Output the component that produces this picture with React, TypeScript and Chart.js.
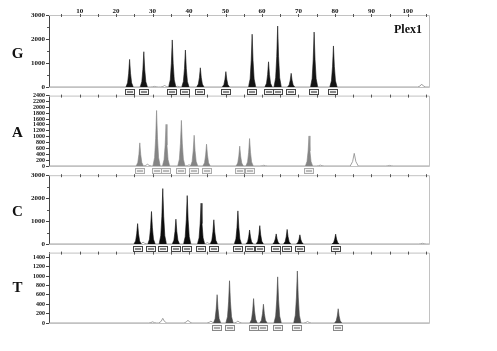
import React, { useEffect, useRef } from 'react';
import { Chart, registerables } from 'chart.js';

Chart.register(...registerables);

// ---------- data ----------
const xLabelValues = [10, 20, 30, 40, 50, 60, 70, 80, 90, 100];
const X_MIN = 1.6;
const X_MAX = 105.8;

const gPeakPos = [23.7, 27.6, 35.4, 39.0, 43.1, 50.1, 57.3, 61.8, 64.3, 68.0, 74.3, 79.6];
const gPeakHeight = [1150, 1470, 1960, 1540, 800, 640, 2200, 1050, 2540, 570, 2290, 1710];
const gMinorPos = [30.5, 33.3, 36.8, 103.8];
const gMinorHeight = [25, 60, 30, 120];

const aPeakPos = [26.5, 31.1, 33.7, 37.9, 41.4, 44.8, 53.9, 56.6, 72.9];
const aPeakHeight = [788, 1893, 1420, 1555, 1048, 744, 676, 936, 1025];
const aMinorPos = [28.6, 40.0, 60.5, 76.0, 85.3, 95.0];
const aMinorHeight = [60, 40, 25, 30, 430, 20];

const cPeakPos = [25.9, 29.7, 32.8, 36.4, 39.5, 43.3, 46.8, 53.4, 56.6, 59.4, 63.9, 66.9, 70.4, 80.2];
const cPeakHeight = [889, 1417, 2417, 1083, 2111, 1778, 1056, 1444, 611, 800, 440, 635, 400, 430];
const cMinorPos = [27.4, 45.0, 104.0];
const cMinorHeight = [80, 60, 30];

const tPeakPos = [47.7, 51.1, 57.7, 60.4, 64.3, 69.7, 80.9];
const tPeakHeight = [603, 900, 520, 400, 983, 1108, 303];
const tMinorPos = [30.0, 32.8, 39.7, 46.0, 53.4, 72.5];
const tMinorHeight = [25, 100, 60, 40, 40, 30];

// ---------- styles ----------
const PEAK_DX = [-1.0, -0.55, -0.25, 0, 0.25, 0.55, 1.0];
const PEAK_FRAC = [0, 0.15, 0.5, 1, 0.5, 0.15, 0];
const BUMP_DX = [-1.1, -0.45, 0, 0.45, 1.1];
const BUMP_FRAC = [0, 0.35, 1, 0.35, 0];
const SERIF = "'Liberation Serif', 'DejaVu Serif', serif";

type Panel = {
  key: string;
  letter: string;
  letterY: number;
  canvasTop: number;
  canvasH: number;
  axisH: number;
  padBottom: number;
  yMax: number;
  yStep: number;
  yFont: number;
  minorStep: number;
  color: string;
  boxStroke: string;
  boxInner: string;
  pos: number[];
  heights: number[];
  minorPos: number[];
  minorHeights: number[];
  xLabels: boolean;
};

const panels: Panel[] = [
  { key: 'G', letter: 'G', letterY: 53, canvasTop: 0, canvasH: 96, axisH: 15, padBottom: 9, yMax: 3000, yStep: 1000, yFont: 7, minorStep: 500, color: '#151515', boxStroke: '#444', boxInner: '#888', pos: gPeakPos, heights: gPeakHeight, minorPos: gMinorPos, minorHeights: gMinorHeight, xLabels: true },
  { key: 'A', letter: 'A', letterY: 132, canvasTop: 91, canvasH: 83, axisH: 4, padBottom: 8, yMax: 2400, yStep: 200, yFont: 6, minorStep: 0, color: '#858585', boxStroke: '#aaa', boxInner: '#bbb', pos: aPeakPos, heights: aPeakHeight, minorPos: aMinorPos, minorHeights: aMinorHeight, xLabels: false },
  { key: 'C', letter: 'C', letterY: 211, canvasTop: 170, canvasH: 82, axisH: 4, padBottom: 8, yMax: 3000, yStep: 1000, yFont: 7, minorStep: 500, color: '#0d0d0d', boxStroke: '#444', boxInner: '#888', pos: cPeakPos, heights: cPeakHeight, minorPos: cMinorPos, minorHeights: cMinorHeight, xLabels: false },
  { key: 'T', letter: 'T', letterY: 287, canvasTop: 248, canvasH: 86, axisH: 4, padBottom: 11, yMax: 1500, yStep: 200, yFont: 6, minorStep: 0, color: '#4a4a4a', boxStroke: '#888', boxInner: '#aaa', pos: tPeakPos, heights: tPeakHeight, minorPos: tMinorPos, minorHeights: tMinorHeight, xLabels: false },
];

function peakPoints(pos: number, h: number) {
  return PEAK_DX.map((dx, i) => ({ x: pos + dx, y: h * PEAK_FRAC[i] }));
}

function baselinePoints(minorPos: number[], minorHeights: number[]) {
  const pts: { x: number; y: number }[] = [{ x: X_MIN, y: 0 }];
  minorPos.forEach((p, k) => {
    BUMP_DX.forEach((dx, i) => pts.push({ x: p + dx, y: minorHeights[k] * BUMP_FRAC[i] }));
  });
  pts.push({ x: X_MAX, y: 0 });
  return pts;
}

function PanelChart({ p }: { p: Panel }) {
  const ref = useRef<HTMLCanvasElement | null>(null);
  useEffect(() => {
    if (!ref.current) return;
    const peakSets = p.pos.map((pos, i) => ({
      data: peakPoints(pos, p.heights[i]),
      borderColor: p.color,
      backgroundColor: p.color,
      borderWidth: 0.6,
      pointRadius: 0,
      fill: 'origin',
      tension: 0,
    }));
    const baseSet = {
      data: baselinePoints(p.minorPos, p.minorHeights),
      borderColor: '#8a8a8a',
      backgroundColor: 'transparent',
      borderWidth: 0.8,
      pointRadius: 0,
      fill: false,
      tension: 0,
    };
    const framePlugin = {
      id: 'frame' + p.key,
      afterDatasetsDraw(chart: any) {
        const { ctx, chartArea } = chart;
        const { left, right, top, bottom } = chartArea;
        const xs = chart.scales.x;
        const ys = chart.scales.y;
        ctx.save();
        ctx.strokeStyle = '#c2c2c2';
        ctx.lineWidth = 1;
        ctx.beginPath();
        ctx.moveTo(left, top + 0.5);
        ctx.lineTo(right + 0.5, top + 0.5);
        ctx.lineTo(right + 0.5, bottom + 0.5);
        ctx.lineTo(left, bottom + 0.5);
        ctx.stroke();
        ctx.strokeStyle = '#555';
        ctx.beginPath();
        xs.ticks.forEach((t: any) => {
          const x = Math.round(xs.getPixelForValue(t.value)) + 0.5;
          ctx.moveTo(x, top - 1);
          ctx.lineTo(x, top + 2);
        });
        ctx.stroke();
        if (p.minorStep) {
          ctx.beginPath();
          for (let v = p.minorStep; v < p.yMax; v += p.yStep) {
            const y = Math.round(ys.getPixelForValue(v)) + 0.5;
            ctx.moveTo(left - 2, y);
            ctx.lineTo(left, y);
          }
          ctx.stroke();
        }
        p.pos.forEach((pos) => {
          const x = Math.round(xs.getPixelForValue(pos));
          const y = Math.round(bottom) + 2;
          ctx.fillStyle = '#f4f4f4';
          ctx.fillRect(x - 4.5, y + 0.5, 9, 5);
          ctx.strokeStyle = p.boxStroke;
          ctx.strokeRect(x - 4.5, y + 0.5, 9, 5);
          ctx.fillStyle = p.boxInner;
          ctx.fillRect(x - 3, y + 2, 6, 2);
        });
        ctx.restore();
      },
    };
    const chart = new Chart(ref.current, {
      type: 'line',
      data: { datasets: [...peakSets, baseSet] as any },
      options: {
        animation: false,
        responsive: false,
        devicePixelRatio: 1,
        parsing: false as any,
        normalized: true,
        layout: { padding: { left: 21, right: 68, top: 0, bottom: p.padBottom } },
        plugins: { legend: { display: false }, tooltip: { enabled: false } },
        scales: {
          x: {
            type: 'linear',
            position: 'top',
            min: X_MIN,
            max: X_MAX,
            grid: { display: false, drawTicks: false },
            border: { display: false },
            ticks: {
              display: p.xLabels,
              stepSize: 5,
              includeBounds: false,
              autoSkip: false,
              maxRotation: 0,
              padding: 0,
              color: '#111',
              font: { family: SERIF, weight: 'bold', size: 7 },
              callback: (v: any) => (xLabelValues.includes(Number(v)) ? String(v) : ''),
            },
            afterFit: (s: any) => { s.height = p.axisH; },
          },
          y: {
            type: 'linear',
            min: 0,
            max: p.yMax,
            grid: { drawOnChartArea: false, drawTicks: true, tickLength: 3, color: '#444' },
            border: { display: true, color: '#444', width: 1 },
            ticks: {
              stepSize: p.yStep,
              includeBounds: false,
              autoSkip: false,
              padding: 1,
              color: '#111',
              font: { family: SERIF, weight: 'bold', size: p.yFont },
              callback: (v: any) => String(v),
            },
            afterFit: (s: any) => { s.width = 28; },
          },
        },
      } as any,
      plugins: [framePlugin],
    });
    return () => chart.destroy();
  }, [p]);
  return (
    <canvas
      ref={ref}
      width={497}
      height={p.canvasH}
      style={{ position: 'absolute', left: 0, top: p.canvasTop, width: 497, height: p.canvasH, display: 'block' }}
    />
  );
}

export default function App() {
  return (
    <div style={{ position: 'fixed', left: 0, top: 0, width: 497, height: 351, background: '#fff', overflow: 'hidden' }}>
      {panels.map((p) => (
        <PanelChart key={p.key} p={p} />
      ))}
      {panels.map((p) => (
        <div
          key={'l' + p.key}
          style={{ position: 'absolute', left: 7.5, width: 20, top: p.letterY - 7.5, height: 15, lineHeight: '15px', textAlign: 'center', fontFamily: SERIF, fontWeight: 'bold', fontSize: 15, color: '#111' }}
        >
          {p.letter}
        </div>
      ))}
      <div style={{ position: 'absolute', left: 360, width: 62, top: 23, height: 12, lineHeight: '12px', textAlign: 'right', fontFamily: SERIF, fontWeight: 'bold', fontSize: 12, color: '#111' }}>
        Plex1
      </div>
    </div>
  );
}
